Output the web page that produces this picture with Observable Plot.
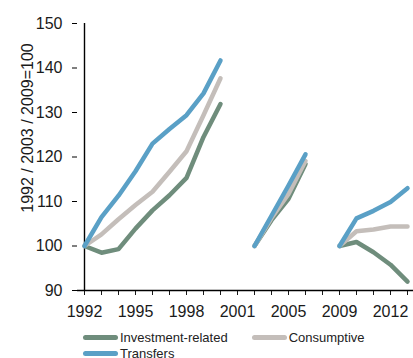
<!DOCTYPE html>
<html><head><meta charset="utf-8">
<script src="https://cdn.jsdelivr.net/npm/d3@7"></script>
<script src="https://cdn.jsdelivr.net/npm/@observablehq/plot@0.6"></script>
<style>
html,body{margin:0;padding:0;overflow:hidden;background:#fff;width:413px;height:358px}
#chart{width:430px;height:322px}
#chart svg{display:block;max-width:none !important;width:430px;height:322px}
.legend{display:grid;grid-template-columns:168.7px auto;padding-left:83px;padding-top:8px;font:13px "Liberation Sans",Arial,sans-serif;color:#222;line-height:15.5px;width:420px}
.item{display:flex;align-items:center;white-space:nowrap}
.sw{width:35px;height:5px;border-radius:3px;margin-right:2px}
</style></head><body>
<div id="chart"></div>
<div class="legend" id="legend"></div>
<script>
const categories = ["1992","1993","1994","1995","1996","1997","1998","1999","2000","2001",
  "2003","2004","2005","2006","2008","2009","2010","2011","2012","2013"];
const investment  = [100, 98.5, 99.3, 103.9, 108.0, 111.4, 115.3, 124.5, 131.9, null, 100, 105.8, 110.6, 118.4, null, 100, 100.9, 98.6, 95.8, 92.0];
const consumptive = [100, 102.6, 106.0, 109.2, 112.2, 116.7, 121.3, 129.4, 137.7, null, 100, 106.3, 111.7, 119.1, null, 100, 103.3, 103.7, 104.4, 104.4];
const transfers   = [100, 106.5, 111.3, 116.8, 123.0, 126.3, 129.4, 134.3, 141.7, null, 100, 106.8, 113.6, 120.6, null, 100, 106.2, 107.9, 109.9, 113.0];
const seriesNames = ["Investment-related", "Consumptive", "Transfers"];
const seriesColors = ["#6f8d7c", "#c4beba", "#5aa0c6"];
const yTicks = [90, 100, 110, 120, 130, 140, 150];
const yTitle = "1992 / 2003 / 2009=100";

const seriesValues = [investment, consumptive, transfers];
const rows = [];
seriesNames.forEach((s, k) => {
  categories.forEach((c, i) => rows.push({cat: c, value: seriesValues[k][i], series: s}));
});

const chart = Plot.plot({
  width: 430, height: 322,
  marginLeft: 77, marginRight: 16, marginTop: 23, marginBottom: 32,
  x: {type: "point", domain: categories, padding: 0},
  y: {domain: [90, 150]},
  color: {domain: seriesNames, range: seriesColors},
  style: {fontFamily: "'Liberation Sans', Arial, sans-serif", fontSize: "16px", color: "#1a1a1a", background: "#fff", maxWidth: "none", overflow: "visible"},
  marks: [
    Plot.axisY({ticks: yTicks, tickSize: 5, tickPadding: 10, label: null, fontSize: 16, stroke: "#000"}),
    Plot.axisX({tickSize: 5, tickPadding: 10, label: null, fontSize: 16,
      tickFormat: d => categories.indexOf(d) % 3 === 0 ? d : ""}),
    Plot.ruleX([categories[0]], {stroke: "#000", strokeWidth: 1.4}),
    Plot.ruleY([90], {stroke: "#000", strokeWidth: 1.4}),
    Plot.line(rows, {x: "cat", y: "value", z: "series", stroke: "series", strokeWidth: 4.5,
      strokeLinecap: "round", strokeLinejoin: "round"}),
    Plot.text([yTitle], {frameAnchor: "left", textAnchor: "middle", lineAnchor: "middle", rotate: -90, dx: -50, dy: -29, fontSize: 16, fill: "#1a1a1a"})
  ]
});
document.getElementById("chart").appendChild(chart);

const legend = document.getElementById("legend");
seriesNames.forEach((s, k) => {
  const item = document.createElement("div");
  item.className = "item";
  const sw = document.createElement("span");
  sw.className = "sw";
  sw.style.background = seriesColors[k];
  item.appendChild(sw);
  item.appendChild(document.createTextNode(s));
  legend.appendChild(item);
});
</script>
</body></html>
